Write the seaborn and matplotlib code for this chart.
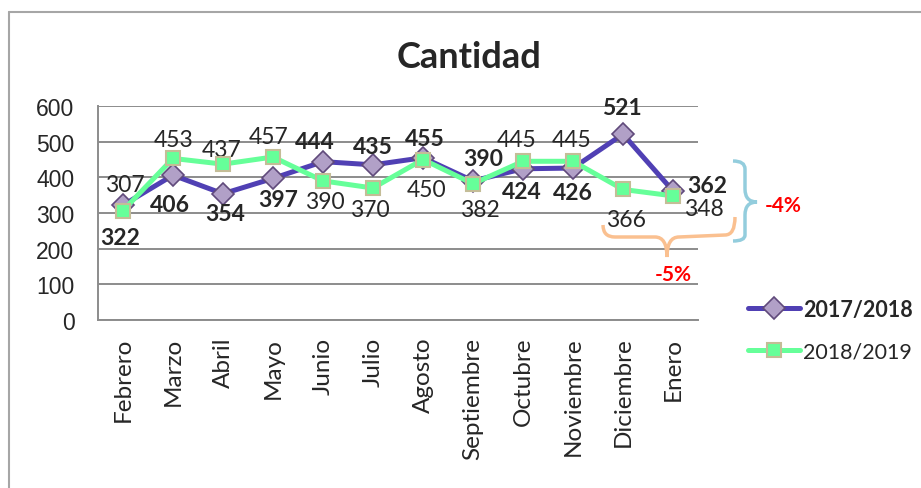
import matplotlib
matplotlib.use("Agg")

import matplotlib.pyplot as plt
import seaborn as sns
import pandas as pd
from matplotlib.path import Path
from matplotlib.patches import PathPatch
from matplotlib.lines import Line2D

# Data
months = ["Febrero", "Marzo", "Abril", "Mayo", "Junio", "Julio", "Agosto",
          "Septiembre", "Octubre", "Noviembre", "Diciembre", "Enero"]
s2017 = [322, 406, 354, 397, 444, 435, 455, 390, 424, 426, 521, 362]
s2018 = [307, 453, 437, 457, 390, 370, 450, 382, 445, 445, 366, 348]
yticks = [0, 100, 200, 300, 400, 500, 600]

# label offsets in pixels (dx, dy)
off2017 = [(-3, -32), (-3, -29), (2, -20), (5, -21), (-8, 20), (0, 18),
           (2, 19), (10, 22), (-1, -23), (0, -24), (-1, 27), (34, 5)]
off2018 = [(2, 26), (1, 19), (-1, 15), (-4, 21), (2, -21), (-3, -21),
           (4, -30), (7, -26), (-6, 22), (-1, 22), (3, -30), (31, -13)]

W, H = 921, 489


def fig_xy(px, py):
    return px / W, 1 - py / H


sns.set_style("white")
plt.rcParams["font.family"] = ["Lato", "DejaVu Sans"]

fig = plt.figure(figsize=(W / 100, H / 100), dpi=100)
ax = fig.add_axes([98 / W, 1 - 321 / H, 600 / W, 214 / H])

df = pd.DataFrame({"mes": months, "a": s2017, "b": s2018})

sns.lineplot(data=df, x="mes", y="a", ax=ax, sort=False, color="#5040B4",
             linewidth=3.6, marker="D", markersize=11,
             markerfacecolor="#B1A0C7", markeredgecolor="#604A7B",
             markeredgewidth=1.2, label="2017/2018", zorder=3)
sns.lineplot(data=df, x="mes", y="b", ax=ax, sort=False, color="#66FF99",
             linewidth=3.6, marker="s", markersize=10,
             markerfacecolor="#66FF99", markeredgecolor="#C4BD97",
             markeredgewidth=1.5, label="2018/2019", zorder=4)

ax.set_ylim(0, 600)
ax.set_xlim(-0.5, len(months) - 0.5)
ax.set_yticks(yticks)
ax.set_xlabel("")
ax.set_ylabel("")
ax.yaxis.grid(True, color="#8C8C8C", linewidth=1.4)
ax.xaxis.grid(False)
for side in ["top", "right"]:
    ax.spines[side].set_visible(False)
for side in ["left", "bottom"]:
    ax.spines[side].set_color("#8C8C8C")
    ax.spines[side].set_linewidth(1.4)
ax.tick_params(axis="y", length=0, pad=17, labelsize=16.5)
ax.tick_params(axis="x", length=0, pad=12, labelsize=17.5, rotation=90)
for t in ax.get_yticklabels():
    t.set_fontfamily("Liberation Sans")

for i, (v, o) in enumerate(zip(s2017, off2017)):
    ax.annotate(str(v), (i, v), xytext=o, textcoords="offset pixels",
                ha="center", va="center", fontsize=16.5, fontweight="bold")
for i, (v, o) in enumerate(zip(s2018, off2018)):
    ax.annotate(str(v), (i, v), xytext=o, textcoords="offset pixels",
                ha="center", va="center", fontsize=16.5)

# title
fig.text(*fig_xy(469, 58), "Cantidad", ha="center", va="center",
         fontsize=26, fontweight="bold")

# legend
ax.legend_.remove()
handles, labels = ax.get_legend_handles_labels()
leg = fig.legend(handles, labels, loc="center left",
                 bbox_to_anchor=fig_xy(729, 331), frameon=False,
                 fontsize=15.5, handlelength=2.4, labelspacing=1.0,
                 handletextpad=0.15)
leg.get_texts()[0].set_fontweight("bold")

# outer chart border (cropped)
fig.add_artist(Line2D([9 / W, 9 / W], [0, 1 - 13 / H], color="#A6A6A6",
                      linewidth=1.5, transform=fig.transFigure))
fig.add_artist(Line2D([9 / W, 1], [1 - 13 / H, 1 - 13 / H], color="#A6A6A6",
                      linewidth=1.5, transform=fig.transFigure))

# blue brace
blue = [(733, 162), (745, 162), (745, 170), (745, 190), (745, 203), (757, 203),
        (745, 203), (745, 216), (745, 236), (745, 242), (733, 242)]
codes = [Path.MOVETO, Path.CURVE3, Path.CURVE3, Path.LINETO, Path.CURVE3, Path.CURVE3,
         Path.CURVE3, Path.CURVE3, Path.LINETO, Path.CURVE3, Path.CURVE3]
fig.add_artist(PathPatch(Path([fig_xy(*p) for p in blue], codes), fill=False,
                         edgecolor="#93CDDD", linewidth=2.5,
                         transform=fig.transFigure))
fig.text(*fig_xy(783, 206), "-4%", color="#FF0000", fontsize=15,
         fontweight="bold", ha="center", va="center")

# orange brace
orange = [(603, 226), (603, 238), (615, 238), (655, 238), (667, 238), (667, 258),
          (667, 238), (679, 238), (725, 236), (735, 236), (735, 218)]
fig.add_artist(PathPatch(Path([fig_xy(*p) for p in orange], codes), fill=False,
                         edgecolor="#FAC090", linewidth=2.5,
                         transform=fig.transFigure))
fig.text(*fig_xy(673, 275), "-5%", color="#FF0000", fontsize=15,
         fontweight="bold", ha="center", va="center")

fig.savefig("out.png", dpi=100)
